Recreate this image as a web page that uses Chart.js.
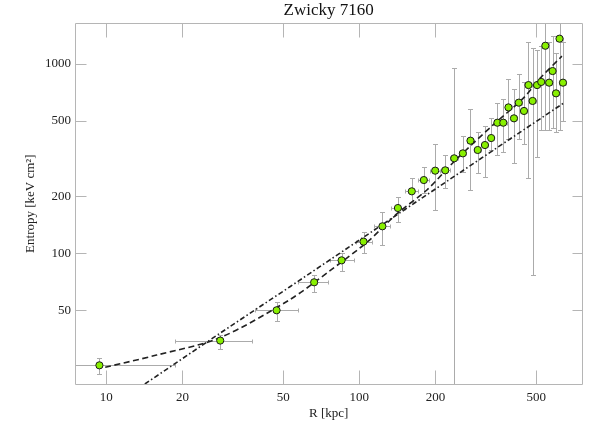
<!DOCTYPE html>
<html>
<head>
<meta charset="utf-8">
<script src="https://cdn.jsdelivr.net/npm/chart.js@4/dist/chart.umd.min.js"></script>
<style>
html,body{margin:0;padding:0;background:#fff;}
#wrap{width:605px;height:432px;position:relative;}
</style>
</head>
<body>
<div id="wrap"><canvas id="c" width="605" height="432"></canvas></div>
<script>
// ---- data ----
const title = "Zwicky 7160";
const xTitle = "R [kpc]";
const yTitle = "Entropy [keV cm²]";
const xTicks = [10, 20, 50, 100, 200, 500];
const yTicks = [50, 100, 200, 500, 1000];

const rKpc    = [9.39, 28.2, 47.1, 66.3, 85.1, 103.9, 123.4, 142.1, 161.2, 179.9, 199.5, 218.6, 237.2, 256.6, 275.0, 293.8, 313.8, 332.0, 351.3, 370.7, 388.6, 408.6, 426.9, 447.6, 466.3, 484.1, 504.2, 523.6, 543.6, 562.8, 580.7, 599.2, 618.4, 638.3];
const entropy = [25.6, 34.6, 50.0, 70.3, 91.8, 115.3, 138.9, 173.5, 212.6, 243.8, 273.3, 274.4, 317.6, 337.3, 393.6, 351.4, 373.3, 406.4, 489.8, 489.8, 590.0, 516.5, 625.0, 565.0, 774.0, 638.0, 774.0, 804.0, 1249.0, 797.0, 918.0, 700.0, 1361.0, 797.0];
const rLo     = [0.03, 18.75, 38.8, 57.2, 76.5, 96.6, 114.0, 133.5, 152.0, 171.0, 190.0, 210.0, 228.0, 248.0, 266.0, 285.0, 304.0, 323.0, 340.0, 359.0, 376.0, 396.0, 413.0, 433.0, 451.0, 468.0, 488.0, 507.0, 526.0, 545.0, 562.0, 580.0, 598.0, 618.0];
const rHi     = [18.75, 37.8, 57.2, 75.4, 95.1, 112.2, 132.7, 151.4, 170.0, 189.0, 209.0, 228.0, 246.0, 265.0, 284.0, 303.0, 323.0, 341.0, 362.0, 382.0, 401.0, 421.0, 440.0, 462.0, 481.0, 500.0, 520.0, 540.0, 561.0, 580.0, 599.0, 618.0, 638.0, 658.0];
const kLo     = [23.1, 31.1, 44.0, 62.7, 81.0, 100.0, 110.7, 146.8, 187.5, 207.5, 169.4, 220.4, 1.0, 269.8, 216.0, 264.6, 252.0, 351.4, 330.0, 341.0, 400.0, 299.0, 400.0, 380.0, 251.0, 77.0, 324.0, 450.0, 450.0, 450.0, 460.0, 440.0, 450.0, 500.0];
const kHi     = [27.9, 37.0, 55.6, 77.1, 100.0, 129.1, 166.0, 199.0, 249.0, 287.0, 376.5, 330.4, 956.0, 416.7, 576.0, 439.0, 470.6, 516.5, 620.0, 650.0, 830.0, 735.0, 882.0, 800.0, 1302.0, 1211.0, 1180.0, 1250.0, 2500.0, 1300.0, 1400.0, 1150.0, 2500.0, 1300.0];

// fitted profiles
const dashR = [9.9, 15.8, 28.1, 53.2, 76.6, 108.5, 141.0, 185.0, 235.0, 338.0, 445.0, 518.0, 632.0];
const dashK = [25.0, 29.0, 35.8, 57.0, 81.0, 116.0, 162.0, 216.0, 302.0, 477.0, 660.0, 840.0, 1100.0];
const dotR  = [14.2, 28.1, 53.2, 153.8, 640.0];
const dotK  = [20.4, 37.8, 66.6, 172.9, 620.0];

const pts = (xs, ys) => xs.map((v, i) => ({x: v, y: ys[i]}));

const SERIF = "'Liberation Serif', 'DejaVu Serif', serif";

const decor = {
  id: 'decor',
  beforeDatasetsDraw(chart) {
    const {ctx, chartArea: a, scales: {x, y}} = chart;
    ctx.save();
    ctx.beginPath(); ctx.rect(a.left, a.top, a.right - a.left, a.bottom - a.top); ctx.clip();
    ctx.strokeStyle = '#ababab';
    ctx.lineWidth = 1;
    for (let i = 0; i < rKpc.length; i++) {
      const px = Math.round(x.getPixelForValue(rKpc[i])) + 0.5;
      const py = Math.round(y.getPixelForValue(entropy[i])) + 0.5;
      const y1 = Math.round(y.getPixelForValue(kLo[i])) + 0.5;
      const y2 = Math.round(y.getPixelForValue(kHi[i])) + 0.5;
      const x1 = Math.round(x.getPixelForValue(rLo[i])) + 0.5;
      const x2 = Math.round(x.getPixelForValue(rHi[i])) + 0.5;
      ctx.beginPath();
      ctx.moveTo(px, y1); ctx.lineTo(px, y2);
      ctx.moveTo(px - 2.5, y1); ctx.lineTo(px + 2.5, y1);
      ctx.moveTo(px - 2.5, y2); ctx.lineTo(px + 2.5, y2);
      ctx.moveTo(x1, py); ctx.lineTo(x2, py);
      ctx.moveTo(x1, py - 2); ctx.lineTo(x1, py + 2);
      ctx.moveTo(x2, py - 2); ctx.lineTo(x2, py + 2);
      ctx.stroke();
    }
    ctx.restore();
  },
  afterDraw(chart) {
    const {ctx, chartArea: a, scales: {x, y}} = chart;
    ctx.save();
    ctx.strokeStyle = '#b5b5b5';
    ctx.lineWidth = 1;
    const L = Math.round(a.left) + 0.5, R = Math.round(a.right) + 0.5;
    const T = Math.round(a.top) + 0.5, B = Math.round(a.bottom) + 0.5;
    ctx.beginPath();
    ctx.rect(L, T, R - L, B - T);
    xTicks.forEach(v => {
      const px = Math.round(x.getPixelForValue(v)) + 0.5;
      ctx.moveTo(px, B); ctx.lineTo(px, B - 14);
      ctx.moveTo(px, T); ctx.lineTo(px, T + 14);
    });
    yTicks.forEach(v => {
      const py = Math.round(y.getPixelForValue(v)) + 0.5;
      ctx.moveTo(L, py); ctx.lineTo(L + 11, py);
      ctx.moveTo(R, py); ctx.lineTo(R - 10, py);
    });
    ctx.stroke();
    // titles
    ctx.fillStyle = '#111';
    ctx.textAlign = 'center';
    ctx.textBaseline = 'middle';
    ctx.font = "17px " + SERIF;
    ctx.fillText(title, (a.left + a.right) / 2, 11);
    ctx.fillStyle = '#222';
    ctx.font = "13px " + SERIF;
    ctx.fillText(xTitle, (a.left + a.right) / 2, 414);
    ctx.translate(31, (a.top + a.bottom) / 2);
    ctx.rotate(-Math.PI / 2);
    ctx.fillText(yTitle, 0, 0);
    ctx.restore();
  }
};

new Chart(document.getElementById('c'), {
  type: 'scatter',
  data: {
    datasets: [
      {
        label: 'data',
        data: pts(rKpc, entropy),
        pointRadius: 3.6,
        pointHoverRadius: 3.6,
        backgroundColor: '#88f000',
        borderColor: '#1a1a1a',
        borderWidth: 1,
        order: 0
      },
      {
        label: 'dashed fit',
        type: 'line',
        data: pts(dashR, dashK),
        showLine: true,
        pointRadius: 0,
        borderColor: '#222',
        borderWidth: 1.6,
        borderDash: [6, 3.5],
        tension: 0.3,
        fill: false,
        order: 1
      },
      {
        label: 'dash-dot fit',
        type: 'line',
        data: pts(dotR, dotK),
        showLine: true,
        pointRadius: 0,
        borderColor: '#222',
        borderWidth: 1.6,
        borderDash: [5, 2.5, 1.5, 2.5],
        tension: 0,
        fill: false,
        order: 2
      }
    ]
  },
  options: {
    responsive: false,
    animation: false,
    devicePixelRatio: 1,
    layout: { padding: { left: 0, right: 22.7, top: 23.3, bottom: 0 } },
    plugins: {
      legend: { display: false },
      title: { display: false },
      tooltip: { enabled: false }
    },
    scales: {
      x: {
        type: 'logarithmic',
        min: 7.52,
        max: 761,
        grid: { display: false, drawTicks: false, tickLength: 0 },
        border: { display: false },
        afterBuildTicks: s => { s.ticks = xTicks.map(v => ({value: v})); },
        afterFit: s => { s.height = 48; },
        ticks: {
          padding: 6,
          color: '#222',
          font: { family: SERIF, size: 13 },
          maxRotation: 0,
          autoSkip: false,
          callback: v => String(v)
        }
      },
      y: {
        type: 'logarithmic',
        min: 20.4,
        max: 1641,
        grid: { display: false, drawTicks: false, tickLength: 0 },
        border: { display: false },
        afterBuildTicks: s => { s.ticks = yTicks.map(v => ({value: v})); },
        afterFit: s => { s.width = 75; },
        ticks: {
          padding: 4,
          color: '#222',
          font: { family: SERIF, size: 13 },
          autoSkip: false,
          callback: v => String(v)
        }
      }
    }
  },
  plugins: [decor]
});
</script>
</body>
</html>
